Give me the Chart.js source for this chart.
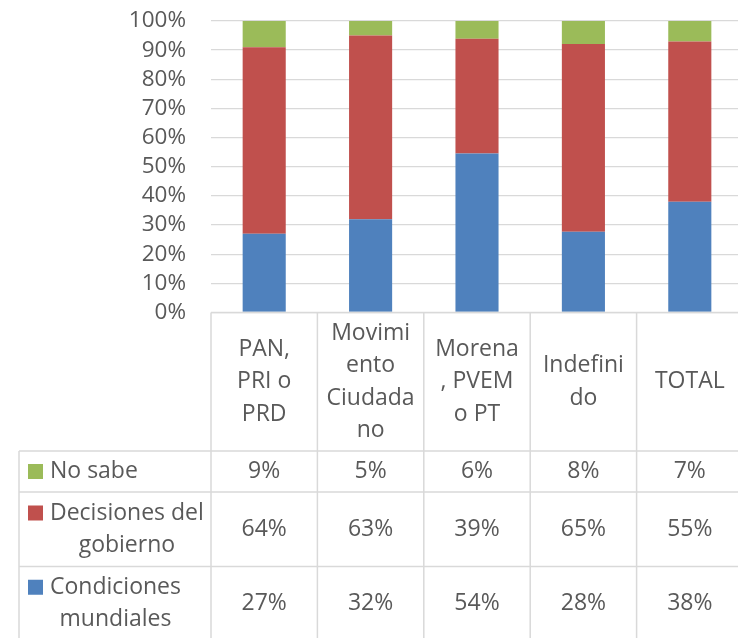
<!DOCTYPE html>
<html>
<head>
<meta charset="utf-8">
<script src="https://cdn.jsdelivr.net/npm/chart.js@4"></script>
<style>
  html, body { margin: 0; padding: 0; background: #fff; overflow: hidden; }
  canvas { display: block; }
</style>
</head>
<body>
<canvas id="chart" width="743" height="638"></canvas>
<script>
// categories (as wrapped in the data table header)
const categoryLines = [
  ["PAN,", "PRI o", "PRD"],
  ["Movimi", "ento", "Ciudada", "no"],
  ["Morena", ", PVEM", "o PT"],
  ["Indefini", "do"],
  ["TOTAL"],
];
const categories = categoryLines.map((l) => l.join(" "));

// series values (percent, as printed in the table)
const condiciones = [27, 32, 54, 28, 38];
const decisiones = [64, 63, 39, 65, 55];
const noSabe = [9, 5, 6, 8, 7];

const seriesNames = ["Condiciones mundiales", "Decisiones del gobierno", "No sabe"];
const seriesLabelLines = [["Condiciones", "mundiales"], ["Decisiones del", "gobierno"], ["No sabe"]];
const seriesColors = ["#4F81BD", "#C0504D", "#9BBB59"];
const seriesValues = [condiciones, decisiones, noSabe];

const yTicks = [0, 10, 20, 30, 40, 50, 60, 70, 80, 90, 100];

// 100% stacked: share of each column total
const totals = categories.map((c, i) =>
  seriesValues.reduce((s, arr) => s + arr[i], 0)
);
const shares = seriesValues.map((arr) => arr.map((v, i) => (v / totals[i]) * 100));

const FONT = '23px "Open Sans"';
const TEXT = "#595959";
const LINE = "#D9D9D9";

// row heights for the data table (header, No sabe, Decisiones, Condiciones)
const rowHeights = [138.5, 41, 74.5, 74];
const tableOrder = [2, 1, 0];

const dataTable = {
  id: "dataTable",
  afterDraw(chart) {
    const ctx = chart.ctx;
    const area = chart.chartArea;
    const x = chart.scales.x;
    const n = categories.length;
    const centers = categories.map((c, i) => x.getPixelForValue(i));
    const edges = [area.left];
    for (let i = 0; i < n - 1; i++) edges.push((centers[i] + centers[i + 1]) / 2);
    edges.push(area.right);

    const top = area.bottom;
    const rowTops = [top];
    rowHeights.forEach((h) => rowTops.push(rowTops[rowTops.length - 1] + h));
    const bottom = chart.height + 5;
    const legLeft = 19;

    ctx.save();
    ctx.strokeStyle = LINE;
    ctx.lineWidth = 1.5;
    ctx.beginPath();
    // top border of header
    ctx.moveTo(area.left, top);
    ctx.lineTo(chart.width, top);
    // row lines
    for (let r = 1; r < rowTops.length - 1; r++) {
      ctx.moveTo(legLeft, rowTops[r]);
      ctx.lineTo(chart.width, rowTops[r]);
    }
    // vertical lines
    edges.forEach((e) => {
      ctx.moveTo(e, top);
      ctx.lineTo(e, bottom);
    });
    ctx.moveTo(legLeft, rowTops[1]);
    ctx.lineTo(legLeft, bottom);
    ctx.stroke();

    ctx.font = FONT;
    ctx.fillStyle = TEXT;
    ctx.textAlign = "center";
    ctx.textBaseline = "middle";
    const lh = 32.5;

    // header
    const hMid = (rowTops[0] + rowTops[1]) / 2;
    categoryLines.forEach((lines, i) => {
      const y0 = hMid - ((lines.length - 1) * lh) / 2;
      lines.forEach((t, k) => ctx.fillText(t, centers[i], y0 + k * lh));
    });

    // data rows
    tableOrder.forEach((s, r) => {
      const mid = (rowTops[r + 1] + rowTops[r + 2]) / 2;
      seriesValues[s].forEach((v, i) => ctx.fillText(v + "%", centers[i], mid));
      const lines = seriesLabelLines[s];
      const y0 = mid - ((lines.length - 1) * lh) / 2;
      const maxW = Math.max(...lines.map((t) => ctx.measureText(t).width));
      const cx = 50 + maxW / 2;
      lines.forEach((t, k) => ctx.fillText(t, cx, y0 + k * lh));
      ctx.fillStyle = seriesColors[s];
      ctx.fillRect(28, y0 - 7.5, 15, 15);
      ctx.fillStyle = TEXT;
    });
    ctx.restore();
  },
};

new Chart(document.getElementById("chart").getContext("2d"), {
  type: "bar",
  data: {
    labels: categories,
    datasets: seriesNames.map((name, s) => ({
      label: name,
      data: shares[s],
      backgroundColor: seriesColors[s],
      borderWidth: 0,
      categoryPercentage: 1,
      barPercentage: 0.405,
    })),
  },
  options: {
    responsive: false,
    animation: false,
    layout: { padding: { top: 21, bottom: 325.5, left: 0, right: 0 } },
    plugins: { legend: { display: false }, tooltip: { enabled: false } },
    scales: {
      x: { stacked: true, display: false },
      y: {
        stacked: true,
        min: 0,
        max: 100,
        afterBuildTicks: (axis) => {
          axis.ticks = yTicks.map((v) => ({ value: v }));
        },
        afterFit: (axis) => {
          axis.width = 211;
          axis.paddingTop = 0;
          axis.paddingBottom = 0;
        },
        grid: { color: LINE, lineWidth: 1.3, drawTicks: false },
        border: { display: false },
        ticks: {
          autoSkip: false,
          padding: 25,
          color: TEXT,
          font: { family: "Open Sans", size: 22.5 },
          callback: (v) => v + "%",
        },
      },
    },
  },
  plugins: [dataTable],
});
</script>
</body>
</html>
